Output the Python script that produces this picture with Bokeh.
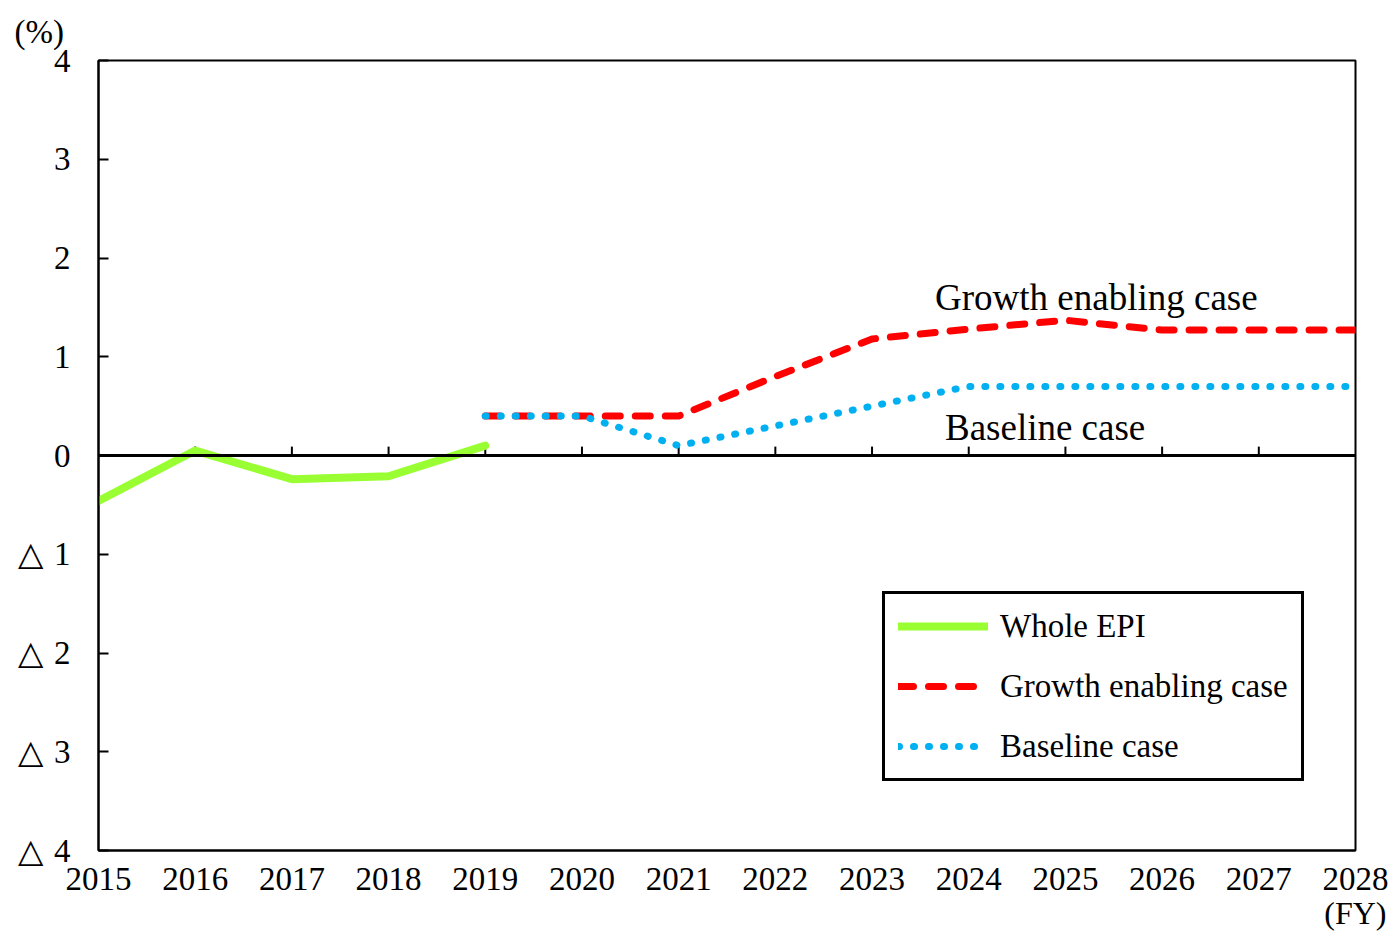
from bokeh.plotting import figure
from bokeh.models import Range1d, FixedTicker, Span, Label, Legend, LegendItem, Title
from bokeh.embed import file_html
from bokeh.resources import INLINE

# ---- data ----
years_actual = [2015, 2016, 2017, 2018, 2019]
whole_epi = [-0.46, 0.05, -0.24, -0.21, 0.10]

years_proj = [2019, 2020, 2021, 2022, 2023, 2024, 2025, 2026, 2027, 2028]
growth_case = [0.40, 0.40, 0.40, 0.80, 1.18, 1.28, 1.37, 1.27, 1.27, 1.27]
baseline_case = [0.40, 0.40, 0.10, 0.30, 0.50, 0.70, 0.70, 0.70, 0.70, 0.70]

x_ticks = list(range(2015, 2029))
y_ticks = [-4, -3, -2, -1, 0, 1, 2, 3, 4]
y_tick_labels = {-4: "△\u20044", -3: "△\u20043", -2: "△\u20042", -1: "△\u20041",
                 0: "0", 1: "1", 2: "2", 3: "3", 4: "4"}

FONT = "Liberation Serif"

p = figure(frame_width=1257, frame_height=790,
           x_range=Range1d(2015, 2028), y_range=Range1d(-4, 4),
           output_backend="svg", toolbar_location=None,
           min_border_left=98, min_border_right=36,
           min_border_top=60, min_border_bottom=92)
p.grid.visible = False
p.background_fill_color = "white"
p.border_fill_color = "white"
p.outline_line_color = "black"
p.outline_line_width = 2
p.outline_line_alpha = 1

# axes
p.xaxis.ticker = FixedTicker(ticks=x_ticks)
p.xaxis.major_label_overrides = {y: str(y) for y in x_ticks}
p.xaxis.major_tick_in = 0
p.xaxis.major_tick_out = 0
p.xaxis.minor_tick_line_color = None
p.xaxis.axis_line_color = "black"
p.xaxis.axis_line_width = 2
p.xaxis.major_label_standoff = 17
p.xaxis.major_label_text_font = FONT
p.xaxis.major_label_text_font_size = "33px"
p.xaxis.major_label_text_color = "black"

p.yaxis.ticker = FixedTicker(ticks=y_ticks)
p.yaxis.major_label_overrides = y_tick_labels
p.yaxis.major_tick_in = 10
p.yaxis.major_tick_out = 0
p.yaxis.major_tick_line_width = 2
p.yaxis.minor_tick_line_color = None
p.yaxis.axis_line_color = "black"
p.yaxis.axis_line_width = 2
p.yaxis.major_label_standoff = 28
p.yaxis.major_label_text_font = FONT
p.yaxis.major_label_text_font_size = "33px"
p.yaxis.major_label_text_color = "black"

# unit labels
p.add_layout(Title(text="(%)", align="left", offset=-84, standoff=21,
                   text_font=FONT, text_font_size="33px", text_font_style="normal",
                   text_color="black"), "above")
p.add_layout(Title(text="(FY)", align="right", offset=-31, standoff=0,
                   text_font=FONT, text_font_size="32px", text_font_style="normal",
                   text_color="black"), "below")

# zero line with upward ticks
p.add_layout(Span(location=0, dimension="width", line_color="black", line_width=3))
inner_years = x_ticks[1:-1]
p.segment(x0=inner_years, y0=[0] * len(inner_years), x1=inner_years,
          y1=[0.09] * len(inner_years), line_color="black", line_width=2)

# series
r_green = p.line(years_actual, whole_epi, line_color="#99FF33", line_width=8,
                 line_cap="round", line_join="round")
r_red = p.line(years_proj, growth_case, line_color="#FF0000", line_width=7,
               line_dash="15 15", line_cap="round", line_join="round")
r_blue = p.line(years_proj, baseline_case, line_color="#00B0F0", line_width=7,
                line_dash="1 14", line_cap="round", line_join="round")

# annotations
p.add_layout(Label(x=2025.32, y=1.6, text="Growth enabling case", text_font=FONT,
                   text_font_size="37px", text_align="center", text_baseline="middle",
                   text_color="black"))
p.add_layout(Label(x=2024.79, y=0.28, text="Baseline case", text_font=FONT,
                   text_font_size="37px", text_align="center", text_baseline="middle",
                   text_color="black"))

legend = Legend(items=[
    LegendItem(label="Whole EPI", renderers=[r_green]),
    LegendItem(label="Growth enabling case", renderers=[r_red]),
    LegendItem(label="Baseline case", renderers=[r_blue]),
], location=(784, 69))
legend.border_line_color = "black"
legend.border_line_alpha = 1
legend.border_line_width = 3
legend.background_fill_color = "white"
legend.background_fill_alpha = 1
legend.label_text_font = FONT
legend.label_text_font_size = "33px"
legend.label_text_color = "black"
legend.glyph_width = 90
legend.glyph_height = 38
legend.label_height = 38
legend.spacing = 22
legend.padding = 13
legend.margin = 0
legend.label_standoff = 12
p.add_layout(legend)

open("out.html", "w").write(file_html(p, INLINE))
